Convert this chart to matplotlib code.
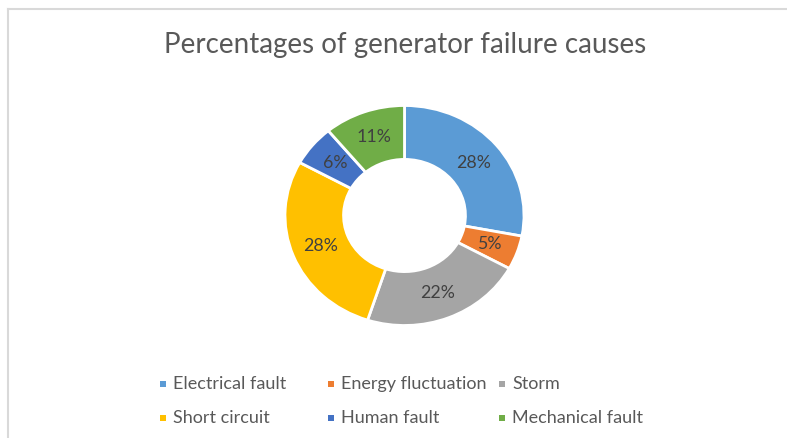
import matplotlib
matplotlib.use("Agg")
import matplotlib.pyplot as plt
from matplotlib.patches import Rectangle
from matplotlib.lines import Line2D

categories = ["Electrical fault", "Energy fluctuation", "Storm",
              "Short circuit", "Human fault", "Mechanical fault"]
values = [28, 5, 22, 28, 6, 11]
colors = ["#5B9BD5", "#ED7D31", "#A5A5A5", "#FFC000", "#4472C4", "#70AD47"]
title = "Percentages of generator failure causes"

plt.rcParams['font.family'] = ['Lato', 'DejaVu Sans']

W, H = 787, 438
fig = plt.figure(figsize=(W / 100, H / 100), dpi=100)
fig.patch.set_facecolor("white")

# frame lines (top and left)
fig.add_artist(Line2D([8 / W, 1], [1 - 9 / H, 1 - 9 / H], color="#d9d9d9", lw=1.5))
fig.add_artist(Line2D([8 / W, 8 / W], [0, 1 - 9 / H], color="#d9d9d9", lw=1.5))

# donut (slightly wider than tall, as in the reference)
cx, cy = 404.5, 215.5
rx, ry = 119.5, 110.0
hx, hy = 130.0, 130.0 * ry / rx
ax = fig.add_axes([(cx - hx) / W, (H - cy - hy) / H, 2 * hx / W, 2 * hy / H])
wedges, texts, autotexts = ax.pie(
    values, colors=colors, startangle=90, counterclock=False, radius=1,
    autopct=lambda p: f"{p:.0f}%", pctdistance=0.755,
    wedgeprops=dict(width=0.49, edgecolor="white", linewidth=2),
    textprops=dict(color="#404040", fontsize=12.8))
L = hx / rx
ax.set_aspect("auto")
ax.set_xlim(-L, L)
ax.set_ylim(-L, L)
ax.axis("off")

fig.text(405 / W, 1 - 45 / H, title, ha="center", va="center",
         fontsize=20, color="#595959")

# legend (manual, 3 columns x 2 rows)
col_x = [163, 331, 502]
row_y = [384, 418]
msz = 6
for i, (lab, c) in enumerate(zip(categories, colors)):
    r, k = divmod(i, 3)
    x, y = col_x[k], row_y[r]
    fig.add_artist(Rectangle(((x - msz / 2) / W, (H - y - msz / 2) / H),
                             msz / W, msz / H, transform=fig.transFigure,
                             facecolor=c, edgecolor="none"))
    fig.text((x + 10) / W, 1 - y / H, lab, ha="left", va="center",
             fontsize=13, color="#595959")

fig.savefig("out.png", dpi=100, facecolor="white")
